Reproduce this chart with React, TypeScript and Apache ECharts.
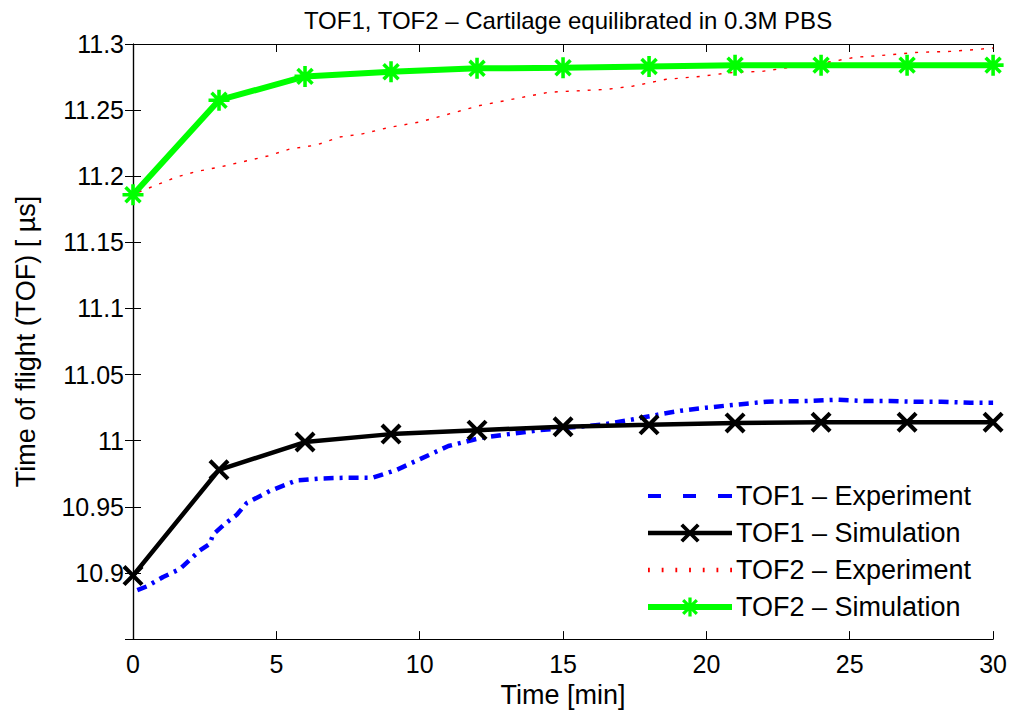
import React, { useEffect, useRef } from "react";
import * as echarts from "echarts";

const simTime = [0, 3, 6, 9, 12, 15, 18, 21, 24, 27, 30];
const tof1Sim = [10.898, 10.978, 10.999, 11.005, 11.008, 11.0106, 11.012, 11.0135, 11.014, 11.014, 11.014];
const tof2Sim = [11.186, 11.2575, 11.2755, 11.279, 11.2816, 11.282, 11.283, 11.284, 11.284, 11.284, 11.284];

const tof1ExpTime = [0.15, 0.5, 1.05, 1.64, 2.33, 2.68, 2.79, 3.2, 3.62, 3.97, 4.77, 5.7, 6.6, 7.45, 8.36, 9.2, 10.0, 11.0, 12.1, 13.1, 14.2, 15.2, 16.3, 17.4, 18.3, 19.1, 20.0, 20.9, 22.1, 23.5, 24.6, 25.6, 26.4, 27.3, 28.2, 29.2, 30];
const tof1ExpValue = [10.887, 10.89, 10.897, 10.903, 10.917, 10.922, 10.929, 10.937, 10.944, 10.953, 10.962, 10.97, 10.9715, 10.972, 10.972, 10.978, 10.986, 10.996, 11.002, 11.005, 11.008, 11.01, 11.012, 11.016, 11.0197, 11.0227, 11.025, 11.027, 11.0295, 11.03, 11.031, 11.03, 11.03, 11.0295, 11.0295, 11.0287, 11.0287];

const tof2ExpTime = [0.2, 0.6, 1.53, 2.2, 3.03, 3.84, 4.7, 5.47, 6.4, 7.2, 8.0, 8.95, 10.0, 12.1, 14.5, 16.5, 17.4, 18.6, 19.8, 20.9, 21.95, 22.8, 23.7, 24.4, 25.2, 26.1, 27.3, 28.5, 29.5, 30];
const tof2ExpValue = [11.188, 11.1915, 11.1995, 11.2035, 11.207, 11.211, 11.2153, 11.2206, 11.2236, 11.2296, 11.232, 11.237, 11.241, 11.2535, 11.2635, 11.2657, 11.268, 11.2733, 11.2755, 11.2785, 11.2793, 11.282, 11.2845, 11.2868, 11.29, 11.2913, 11.2936, 11.2944, 11.296, 11.297];

const seriesNames = ["TOF1 \u2013 Experiment", "TOF1 \u2013 Simulation", "TOF2 \u2013 Experiment", "TOF2 \u2013 Simulation"];
const titleText = "TOF1, TOF2 \u2013 Cartilage equilibrated in 0.3M PBS";
const xName = "Time [min]";
const yName = "Time of flight (TOF) [ \u00b5s]";

const FONT = "'Liberation Sans', Arial, Helvetica, sans-serif";

const X_SYMBOL =
  "path://M-10,-7.2 L-7.2,-10 L10,7.2 L7.2,10 Z M7.2,-10 L10,-7.2 L-7.2,10 L-10,7.2 Z";
const STAR_SYMBOL =
  "path://M-10,-1.7 L10,-1.7 L10,1.7 L-10,1.7 Z M1.7,-10 L1.7,10 L-1.7,10 L-1.7,-10 Z " +
  "M-8.3,-5.9 L-5.9,-8.3 L8.3,5.9 L5.9,8.3 Z M5.9,-8.3 L8.3,-5.9 L-5.9,8.3 L-8.3,5.9 Z";
const DASH_ICON =
  "path://M0,0 L13,0 L13,4 L0,4 Z M35,0 L48,0 L48,4 L35,4 Z M70,0 L84,0 L84,4 L70,4 Z";
const DOT_ICON =
  "path://M0,0 L1.6,0 L1.6,4 L0,4 Z M12,0 L13.6,0 L13.6,4 L12,4 Z M24,0 L25.6,0 L25.6,4 L24,4 Z " +
  "M36,0 L37.6,0 L37.6,4 L36,4 Z M48,0 L49.6,0 L49.6,4 L48,4 Z M60,0 L61.6,0 L61.6,4 L60,4 Z " +
  "M72,0 L73.6,0 L73.6,4 L72,4 Z";

const zip = (a: number[], b: number[]) => a.map((t, i) => [t, b[i]]);

export default function App() {
  const ref = useRef<HTMLDivElement>(null);
  useEffect(() => {
    if (!ref.current) return;
    const chart = echarts.init(ref.current, undefined, { renderer: "svg" });
    const fmtY = (v: number) => {
      const r = Math.round(v * 100) / 100;
      if (r < 10.89) return "";
      return String(r);
    };
    const axisCommon = {
      axisLine: { show: true, lineStyle: { color: "#000", width: 1.2 } },
      axisTick: { show: true, inside: true, length: 8, lineStyle: { color: "#000", width: 1 } },
      splitLine: { show: false },
    };
    chart.setOption({
      animation: false,
      backgroundColor: "#fff",
      title: {
        text: titleText,
        left: 563,
        textAlign: "center",
        top: 3,
        textStyle: { fontFamily: FONT, fontSize: 24, fontWeight: "normal", color: "#000" },
      },
      grid: { left: 133, right: 16, top: 44, bottom: 73 },
      legend: {
        orient: "vertical",
        left: 640,
        top: 477,
        itemWidth: 84,
        itemHeight: 24,
        itemGap: 9,
        lineStyle: { width: "inherit" },
        data: [
          { name: seriesNames[0], icon: DASH_ICON },
          { name: seriesNames[1] },
          { name: seriesNames[2], icon: DOT_ICON },
          { name: seriesNames[3] },
        ],
        textStyle: { fontFamily: FONT, fontSize: 27, color: "#000", lineHeight: 28, padding: [0, 0, 0, -1] },
      },
      xAxis: [
        {
          type: "value",
          min: 0,
          max: 30,
          interval: 5,
          name: xName,
          nameLocation: "middle",
          nameGap: 37,
          nameTextStyle: { fontFamily: FONT, fontSize: 27, color: "#000" },
          axisLabel: { fontFamily: FONT, fontSize: 25, color: "#000", margin: 12 },
          ...axisCommon,
        },
        {
          type: "value",
          position: "top",
          min: 0,
          max: 30,
          interval: 5,
          axisLabel: { show: false },
          ...axisCommon,
        },
      ],
      yAxis: [
        {
          type: "value",
          min: 10.85,
          max: 11.3,
          interval: 0.05,
          name: yName,
          nameLocation: "middle",
          nameGap: 94,
          nameTextStyle: { fontFamily: FONT, fontSize: 27, color: "#000" },
          axisLabel: { fontFamily: FONT, fontSize: 25, color: "#000", margin: 9, formatter: fmtY },
          ...axisCommon,
        },
        {
          type: "value",
          position: "right",
          min: 10.85,
          max: 11.3,
          interval: 0.05,
          axisLabel: { show: false },
          ...axisCommon,
        },
      ],
      series: [
        {
          name: seriesNames[0],
          type: "line",
          data: zip(tof1ExpTime, tof1ExpValue),
          symbol: "none",
          lineStyle: { color: "#0000ff", width: 4.5, type: [10, 6, 3, 6] },
          itemStyle: { color: "#0000ff" },
          z: 2,
        },
        {
          name: seriesNames[1],
          type: "line",
          data: zip(simTime, tof1Sim),
          symbol: X_SYMBOL,
          symbolSize: 21,
          showAllSymbol: true,
          lineStyle: { color: "#000", width: 4.5 },
          itemStyle: { color: "#000", borderWidth: 0 },
          z: 3,
        },
        {
          name: seriesNames[2],
          type: "line",
          data: zip(tof2ExpTime, tof2ExpValue),
          symbol: "none",
          lineStyle: { color: "#ff0000", width: 1.4, type: [3, 8] },
          itemStyle: { color: "#ff0000" },
          z: 2,
        },
        {
          name: seriesNames[3],
          type: "line",
          data: zip(simTime, tof2Sim),
          symbol: STAR_SYMBOL,
          symbolSize: 21,
          showAllSymbol: true,
          lineStyle: { color: "#00ff00", width: 6 },
          itemStyle: { color: "#00ff00", borderWidth: 0 },
          z: 3,
        },
      ],
    });
    return () => chart.dispose();
  }, []);
  return (
    <div
      ref={ref}
      style={{ position: "fixed", left: 0, top: 0, width: 1010, height: 713, background: "#fff" }}
    />
  );
}
